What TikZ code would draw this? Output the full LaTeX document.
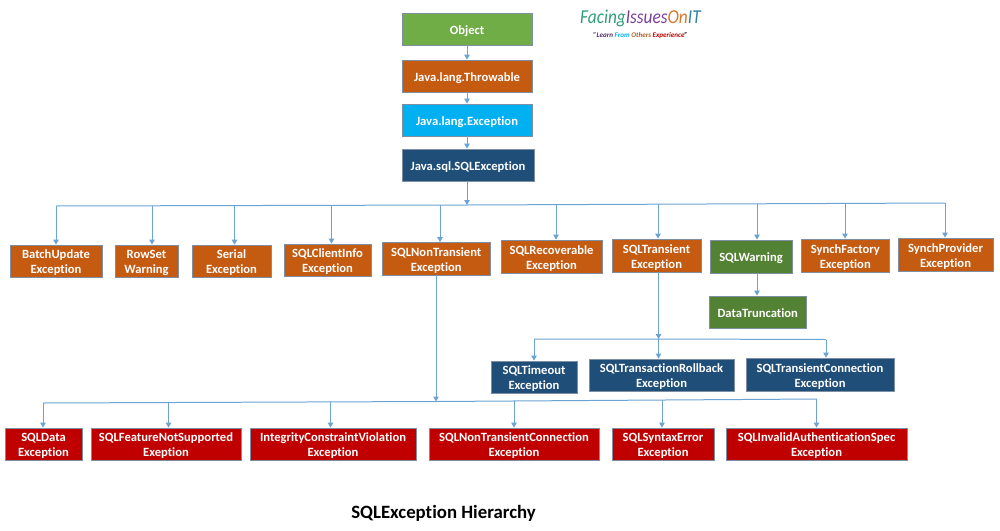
\documentclass[tikz,border=0pt]{standalone}
\usepackage{fontspec}
\setmainfont{Carlito}[Ligatures=NoCommon]
\usetikzlibrary{arrows.meta}
\definecolor{cgreen}{HTML}{70AD47}
\definecolor{corange}{HTML}{C55A11}
\definecolor{ccyan}{HTML}{00B0F0}
\definecolor{cnavy}{HTML}{1F4E79}
\definecolor{cdgreen}{HTML}{548235}
\definecolor{cred}{HTML}{C00000}
\definecolor{cline}{HTML}{6BA3D3}
\definecolor{cedge}{HTML}{7E8FA3}
\definecolor{lgreen}{HTML}{2E9E7A}
\definecolor{lpurple}{HTML}{7B3F98}
\definecolor{lorange}{HTML}{D9772B}
\definecolor{lblue}{HTML}{2F7FA8}
\tikzset{
  box/.style={draw=cedge,line width=0.8pt,inner sep=0pt,align=center,text=white,
    font=\fontsize{12.6}{15}\selectfont\bfseries},
  obj/.style={box,fill=cgreen},
  orng/.style={box,fill=corange},
  cyanbox/.style={box,fill=ccyan},
  navy/.style={box,fill=cnavy},
  dgrn/.style={box,fill=cdgreen},
  redbox/.style={box,fill=cred},
  bus/.style={draw=cline,line width=1pt},
  link/.style={draw=cline,line width=1pt,-{Triangle[width=5.5pt,length=5pt]}},
}
\newcommand{\bx}[7]{\node[#6,minimum width={(#4-#2)*1pt},minimum height={(#5-#3)*1pt}] (#1) at ({(#2+#4)/2},{(#3+#5)/2}) {\raisebox{-5.2pt}[0pt][0pt]{\begin{tabular}{@{}c@{}}#7\end{tabular}}};}
\begin{document}
\begin{tikzpicture}[x=1pt,y=-1pt]
\useasboundingbox (0,0) rectangle (1000,530);
% top chain
\bx{object}{402}{13}{532}{45}{obj}{Object}
\bx{throwable}{402}{60}{532}{92}{orng}{Java.lang.Throwable}
\bx{exception}{402}{104}{532}{136}{cyanbox}{Java.lang.Exception}
\bx{sqlex}{402}{149}{534}{181}{navy}{Java.sql.SQLException}
% second row
\bx{batch}{10}{245}{102}{277}{orng}{BatchUpdate\\Exception}
\bx{rowset}{115}{245}{178}{277}{orng}{RowSet\\Warning}
\bx{serial}{192}{245}{271}{277}{orng}{Serial\\Exception}
\bx{client}{284}{244}{371}{276}{orng}{SQLClientInfo\\Exception}
\bx{nontrans}{382.5}{242.5}{490}{275}{orng}{SQLNonTransient\\Exception}
\bx{recover}{501}{240}{602}{273}{orng}{SQLRecoverable\\Exception}
\bx{transient}{612}{239}{701}{272}{orng}{SQLTransient\\Exception}
\bx{warning}{710}{240}{792}{273}{dgrn}{SQLWarning}
\bx{factory}{801.5}{239}{889}{272}{orng}{SynchFactory\\Exception}
\bx{provider}{898}{238}{993}{271}{orng}{SynchProvider\\Exception}
\bx{datatr}{709.5}{296}{806}{328}{dgrn}{DataTruncation}
% transient children
\bx{timeout}{491}{361}{577}{393}{navy}{SQLTimeout\\Exception}
\bx{rollback}{589}{359}{734}{391}{navy}{SQLTransactionRollback\\Exception}
\bx{transconn}{746}{358}{894}{391}{navy}{SQLTransientConnection\\Exception}
% bottom row
\bx{sqldata}{5}{428}{82}{460}{redbox}{SQLData\\Exception}
\bx{feature}{91}{428}{241}{460}{redbox}{SQLFeatureNotSupported\\Exeption}
\bx{integrity}{250}{428}{416}{460}{redbox}{IntegrityConstraintViolation\\Exception}
\bx{nonconn}{429}{428}{599}{460}{redbox}{SQLNonTransientConnection\\Exception}
\bx{syntax}{612}{428}{714}{460}{redbox}{SQLSyntaxError\\Exception}
\bx{invalid}{726}{428}{907}{460}{redbox}{SQLInvalidAuthenticationSpec\\Exception}
% chain links
\draw[link] (object) -- (throwable);
\draw[link] (throwable) -- (exception);
\draw[link] (exception) -- (sqlex.north -| exception);
% main bus
\coordinate (b0) at (56,206);
\coordinate (bm) at (467,205);
\coordinate (b1) at (945,203);
\draw[bus] (b0) -- (bm) -- (b1);
\draw[link] (sqlex.south -| bm) -- (bm);
\foreach \x/\yy/\t in {56/206/batch,152/206/rowset,234.5/205.7/serial,331.5/205.5/client,440/205/nontrans,556/204.5/recover,658/204.2/transient,757/203.8/warning,845/203.4/factory,945/203/provider}
  \draw[link] (\x,\yy) -- (\x,\yy |- \t.north);
\draw[link] (warning.south -| 757,0) -- (datatr.north -| 757,0);
% transient bus
\coordinate (t0) at (534,339);
\coordinate (tm) at (658.5,339);
\coordinate (t1) at (826,339.5);
\draw[bus] (t0) -- (tm) -- (t1);
\draw[link] (transient.south -| tm) -- (tm);
\draw[link] (t0) -- (t0 |- timeout.north);
\draw[link] (tm) -- (tm |- rollback.north);
\draw[link] (t1) -- (t1 |- transconn.north);
% bottom bus
\coordinate (c0) at (43,403);
\coordinate (cm) at (436,401.5);
\coordinate (c1) at (817,399);
\draw[bus] (c0) -- (cm) -- (c1);
\draw[link] (nontrans.south -| cm) -- (cm);
\foreach \x/\yy/\t in {43/403/sqldata,168.5/402.3/feature,330.5/401.5/integrity,514/400.5/nonconn,662/400/syntax,816.5/399/invalid}
  \draw[link] (\x,\yy) -- (\x,\yy |- \t.north);
% logo
\node[inner sep=0pt,anchor=base west,xscale=0.88,font=\fontsize{19.7}{20}\selectfont\itshape] (logo) at (580,23)
  {\textcolor{lgreen}{Facing}\textcolor{lpurple}{Issues}\textcolor{lorange}{On}\textcolor{lblue}{IT}};
\node[inner sep=0pt,anchor=base,font=\fontsize{7.1}{7}\selectfont\bfseries\itshape] (tag) at (640.5,37)
  {\textcolor{lpurple!70!black}{"Learn} \textcolor{ccyan}{From} \textcolor{lorange!80!black}{Others} \textcolor{cred}{Experience}\textcolor{black}{"}};
% title
\node[inner sep=0pt,anchor=base,font=\fontsize{18.8}{19}\selectfont\bfseries,text=black] (title) at (443.5,518) {SQLException Hierarchy};
\end{tikzpicture}
\end{document}
